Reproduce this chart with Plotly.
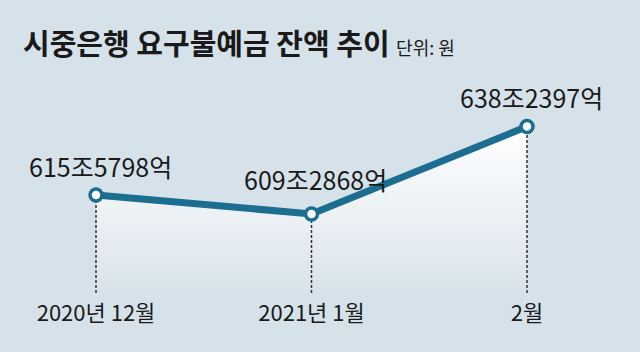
import plotly.graph_objects as go

# Data
categories = ["2020년 12월", "2021년 1월", "2월"]
values = [615.5798, 609.2868, 638.2397]  # 조 원
value_labels = ["615조5798억", "609조2868억", "638조2397억"]
title_main = "시중은행 요구불예금 잔액 추이"
unit_text = "단위: 원"

BG = "#d6e2ea"
LINE = "#1b6e8f"
FONT = "Noto Sans CJK KR, sans-serif"
Y0, Y1 = 583.1, 680.15
xs = list(range(len(categories)))

fig = go.Figure()
fig.add_trace(go.Scatter(
    x=xs, y=values, mode="lines", fill="tozeroy",
    line=dict(width=0, color="rgba(0,0,0,0)"),
    fillgradient=dict(type="vertical", start=Y0, stop=max(values),
                      colorscale=[[0, BG], [0.15, "#dfe8ee"], [1, "#ffffff"]]),
    hoverinfo="skip", showlegend=False))

# dotted drop lines (trace so that markers draw above them)
dx, dy = [], []
for x, v in zip(xs, values):
    dx += [x, x, None]
    dy += [Y0, v, None]
fig.add_trace(go.Scatter(
    x=dx, y=dy, mode="lines",
    line=dict(color="#333333", width=1.5, dash="3px,2px"),
    hoverinfo="skip", showlegend=False))

fig.add_trace(go.Scatter(
    x=xs, y=values, mode="lines+markers",
    line=dict(color=LINE, width=7),
    marker=dict(size=12, color="white", line=dict(color=LINE, width=3.5)),
    showlegend=False, hoverinfo="skip"))

shifts = [29, 35, 30]
for x, v, t, s in zip(xs, values, value_labels, shifts):
    fig.add_annotation(x=x, y=v, text=t, showarrow=False, yshift=s,
                       xshift=4, font=dict(family=FONT, size=25, color="#1a1a1a"))

fig.update_layout(
    width=640, height=352,
    margin=dict(l=0, r=0, t=0, b=59),
    paper_bgcolor=BG, plot_bgcolor=BG,
    title=dict(
        text=f"<b>{title_main}</b> <span style='font-size:18px'>{unit_text}</span>",
        x=23/640, xanchor="left", y=1-45/352, yanchor="middle",
        font=dict(family=FONT, size=29, color="#1a1a1a")),
    xaxis=dict(range=[-96/215.5, 544/215.5], tickvals=xs, ticktext=categories,
               showgrid=False, zeroline=False, showline=False,
               ticks="outside", ticklen=1, tickcolor="rgba(0,0,0,0)",
               tickfont=dict(family=FONT, size=22, color="#1a1a1a")),
    yaxis=dict(range=[Y0, Y1], visible=False),
)

fig.write_html("out.html")
